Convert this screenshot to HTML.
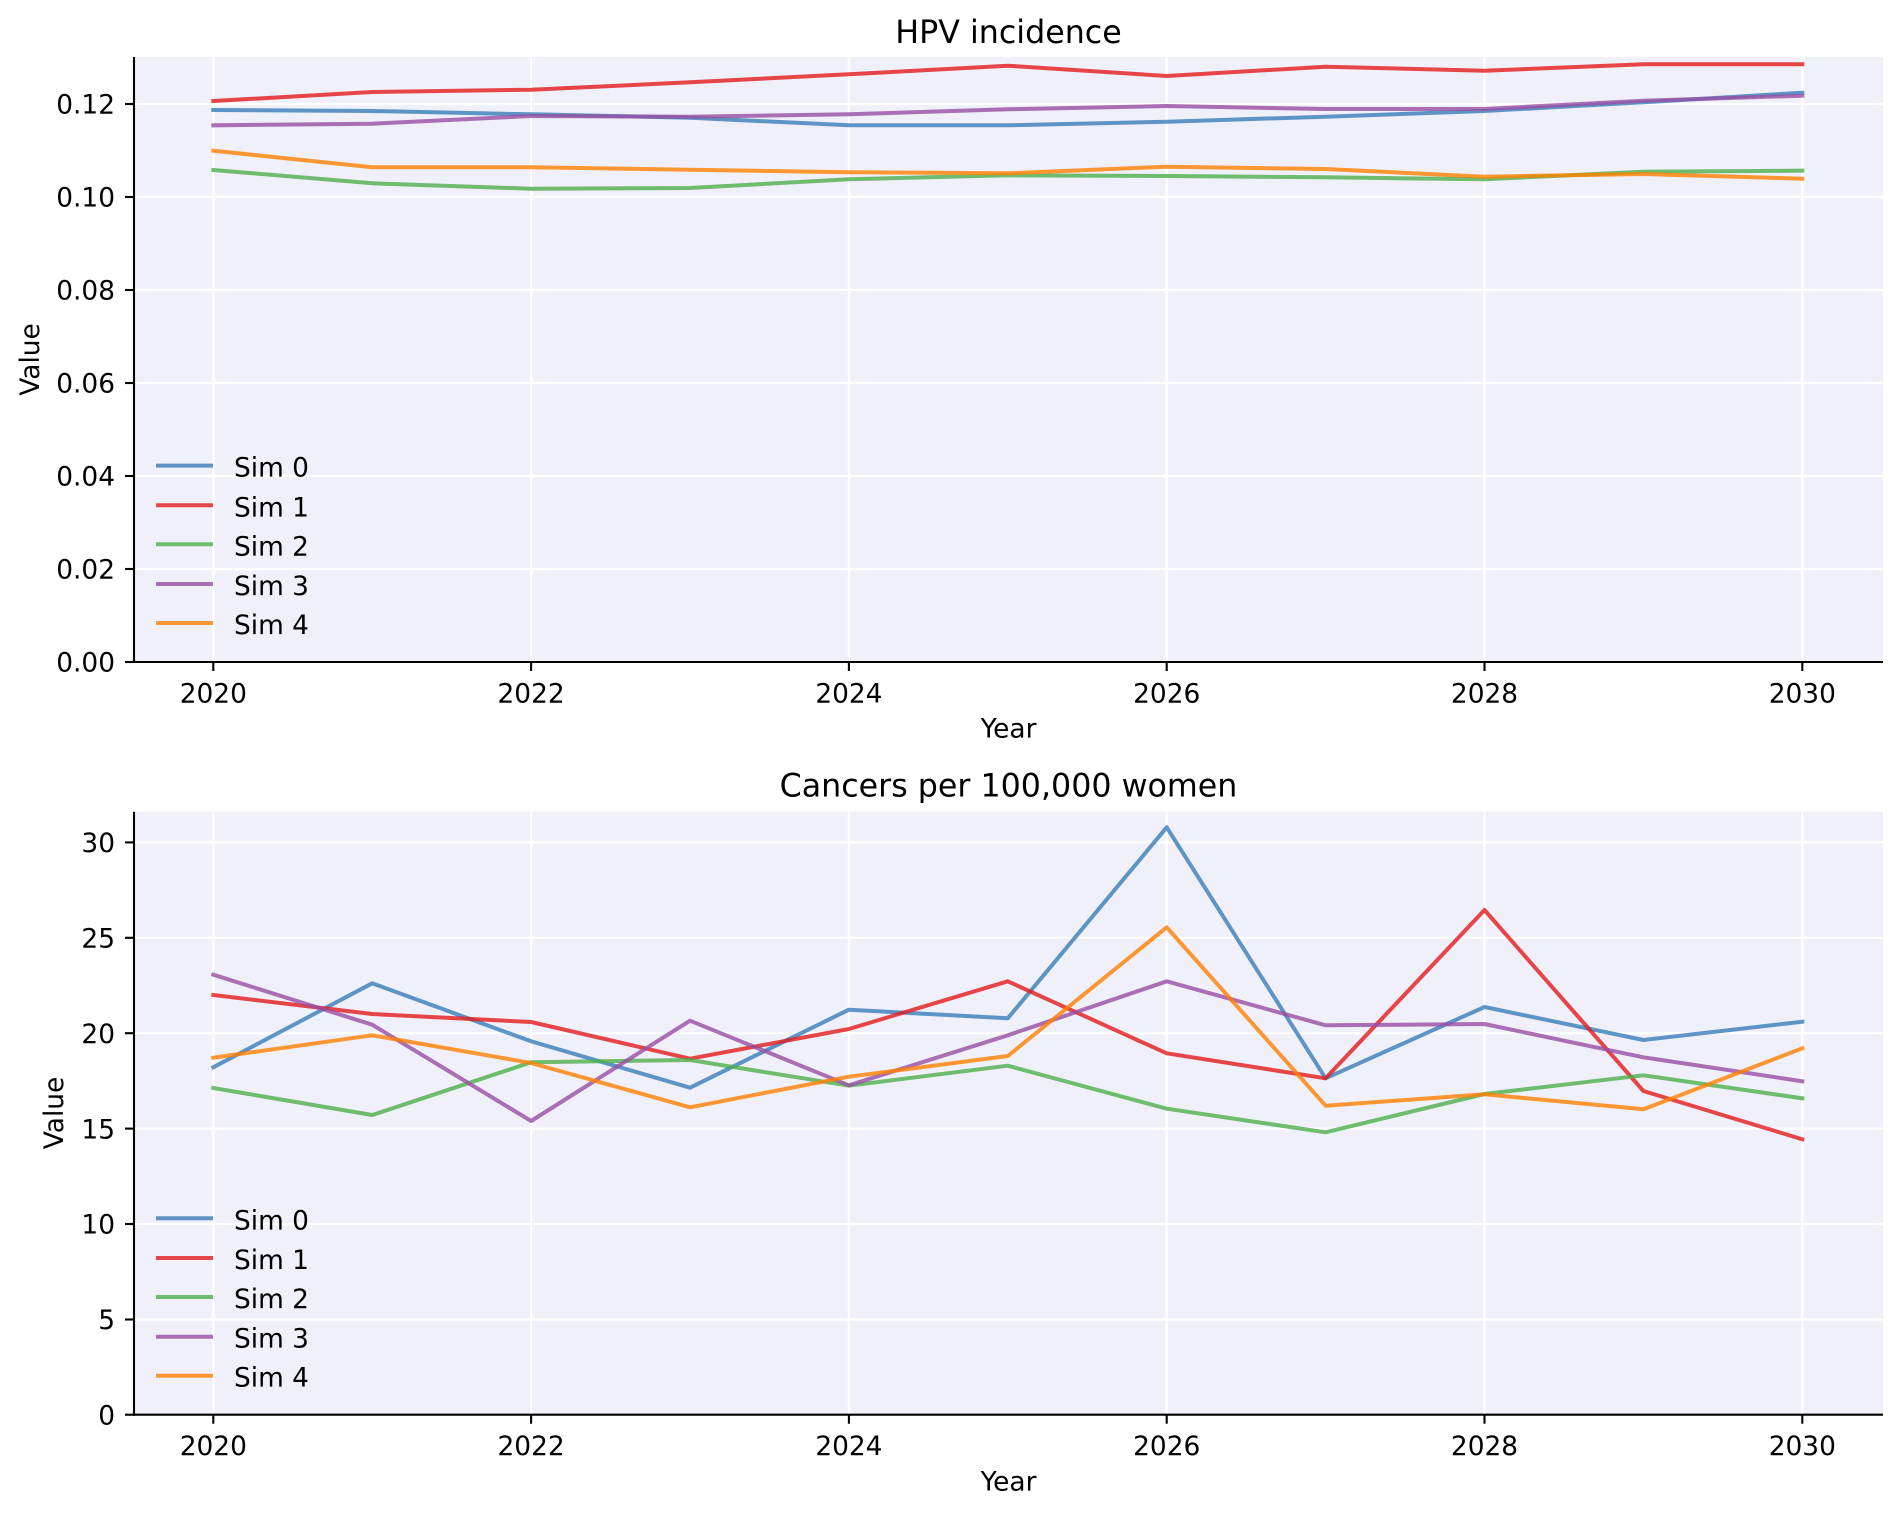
<!DOCTYPE html>
<html><head><meta charset="utf-8"><style>
html,body{margin:0;padding:0;background:#fff;}
svg{display:block;}
text{font-family:"DejaVu Sans","Liberation Sans",sans-serif;fill:#000;}
</style></head><body>
<svg width="1900" height="1516" viewBox="0 0 1900 1516" xmlns="http://www.w3.org/2000/svg">
<rect width="1900" height="1516" fill="#fff"/>

<!-- ============ TOP AXES ============ -->
<rect x="134" y="57" width="1749" height="605" fill="#f0f0fa"/>
<g stroke="#fff" stroke-width="2.2">
  <line x1="134" x2="1883" y1="569" y2="569"/>
  <line x1="134" x2="1883" y1="476" y2="476"/>
  <line x1="134" x2="1883" y1="383" y2="383"/>
  <line x1="134" x2="1883" y1="290" y2="290"/>
  <line x1="134" x2="1883" y1="197" y2="197"/>
  <line x1="134" x2="1883" y1="104" y2="104"/>
  <line y1="57" y2="662" x1="213.3" x2="213.3"/>
  <line y1="57" y2="662" x1="531.1" x2="531.1"/>
  <line y1="57" y2="662" x1="848.9" x2="848.9"/>
  <line y1="57" y2="662" x1="1166.7" x2="1166.7"/>
  <line y1="57" y2="662" x1="1484.5" x2="1484.5"/>
  <line y1="57" y2="662" x1="1802.3" x2="1802.3"/>
</g>
<g fill="none" stroke-width="4" stroke-linejoin="round" stroke-linecap="square" stroke-opacity="0.8">
  <polyline stroke="#377eb8" points="213.3,110 372.2,111 531.1,114.3 690,117.7 848.9,125.3 1007.8,125.3 1166.7,121.7 1325.6,116.7 1484.5,111 1643.4,102.3 1802.3,92.7"/>
  <polyline stroke="#e41a1c" points="213.3,101 372.2,92 531.1,89.7 690,82.3 848.9,74.3 1007.8,65.7 1166.7,76 1325.6,66.7 1484.5,70.7 1643.4,64.3 1802.3,64.3"/>
  <polyline stroke="#4daf4a" points="213.3,170 372.2,183.3 531.1,188.7 690,188 848.9,179.3 1007.8,175.3 1166.7,176 1325.6,177.3 1484.5,179.3 1643.4,171.7 1802.3,170.7"/>
  <polyline stroke="#984ea3" points="213.3,125.3 372.2,123.7 531.1,116 690,116.7 848.9,114.3 1007.8,109.3 1166.7,106 1325.6,109 1484.5,109 1643.4,100.7 1802.3,95.7"/>
  <polyline stroke="#ff7f00" points="213.3,150.7 372.2,167.3 531.1,167.3 690,169.7 848.9,172.3 1007.8,173.3 1166.7,166.7 1325.6,169 1484.5,176.7 1643.4,174 1802.3,178.7"/>
</g>
<!-- legend top -->
<g stroke-width="4" stroke-linecap="square" stroke-opacity="0.8">
  <line x1="158" x2="211" y1="465.6" y2="465.6" stroke="#377eb8"/>
  <line x1="158" x2="211" y1="505.3" y2="505.3" stroke="#e41a1c"/>
  <line x1="158" x2="211" y1="544.3" y2="544.3" stroke="#4daf4a"/>
  <line x1="158" x2="211" y1="584" y2="584" stroke="#984ea3"/>
  <line x1="158" x2="211" y1="623" y2="623" stroke="#ff7f00"/>
</g>
<g font-size="26.4">
  <text x="234" y="476.6">Sim 0</text>
  <text x="234" y="516.3">Sim 1</text>
  <text x="234" y="555.3">Sim 2</text>
  <text x="234" y="595">Sim 3</text>
  <text x="234" y="634">Sim 4</text>
</g>
<!-- spines & ticks -->
<g stroke="#000" stroke-width="2.1">
  <line x1="134" x2="134" y1="57" y2="663"/>
  <line x1="133" x2="1883" y1="662" y2="662"/>
  <line x1="125" x2="134" y1="662" y2="662"/>
  <line x1="125" x2="134" y1="569" y2="569"/>
  <line x1="125" x2="134" y1="476" y2="476"/>
  <line x1="125" x2="134" y1="383" y2="383"/>
  <line x1="125" x2="134" y1="290" y2="290"/>
  <line x1="125" x2="134" y1="197" y2="197"/>
  <line x1="125" x2="134" y1="104" y2="104"/>
  <line x1="213.3" x2="213.3" y1="662" y2="671"/>
  <line x1="531.1" x2="531.1" y1="662" y2="671"/>
  <line x1="848.9" x2="848.9" y1="662" y2="671"/>
  <line x1="1166.7" x2="1166.7" y1="662" y2="671"/>
  <line x1="1484.5" x2="1484.5" y1="662" y2="671"/>
  <line x1="1802.3" x2="1802.3" y1="662" y2="671"/>
</g>
<g font-size="26.4" text-anchor="end">
  <text x="115" y="671.7">0.00</text>
  <text x="115" y="578.7">0.02</text>
  <text x="115" y="485.7">0.04</text>
  <text x="115" y="392.7">0.06</text>
  <text x="115" y="299.7">0.08</text>
  <text x="115" y="206.7">0.10</text>
  <text x="115" y="113.7">0.12</text>
</g>
<g font-size="26.4" text-anchor="middle">
  <text x="213.3" y="702.3">2020</text>
  <text x="531.1" y="702.3">2022</text>
  <text x="848.9" y="702.3">2024</text>
  <text x="1166.7" y="702.3">2026</text>
  <text x="1484.5" y="702.3">2028</text>
  <text x="1802.3" y="702.3">2030</text>
  <text x="1008.5" y="737.7">Year</text>
  <text x="1008.5" y="43" font-size="31.7">HPV incidence</text>
  <text transform="translate(39,359.5) rotate(-90)">Value</text>
</g>

<!-- ============ BOTTOM AXES ============ -->
<rect x="134" y="811.7" width="1749" height="603" fill="#f0f0fa"/>
<g stroke="#fff" stroke-width="2.2">
  <line x1="134" x2="1883" y1="1319.5" y2="1319.5"/>
  <line x1="134" x2="1883" y1="1224" y2="1224"/>
  <line x1="134" x2="1883" y1="1128.6" y2="1128.6"/>
  <line x1="134" x2="1883" y1="1033.2" y2="1033.2"/>
  <line x1="134" x2="1883" y1="937.8" y2="937.8"/>
  <line x1="134" x2="1883" y1="842.4" y2="842.4"/>
  <line y1="811.7" y2="1414.7" x1="213.3" x2="213.3"/>
  <line y1="811.7" y2="1414.7" x1="531.1" x2="531.1"/>
  <line y1="811.7" y2="1414.7" x1="848.9" x2="848.9"/>
  <line y1="811.7" y2="1414.7" x1="1166.7" x2="1166.7"/>
  <line y1="811.7" y2="1414.7" x1="1484.5" x2="1484.5"/>
  <line y1="811.7" y2="1414.7" x1="1802.3" x2="1802.3"/>
</g>
<g fill="none" stroke-width="4" stroke-linejoin="round" stroke-linecap="square" stroke-opacity="0.8">
  <polyline stroke="#377eb8" points="213.3,1067.3 372.2,983.3 531.1,1041.3 690,1087.7 848.9,1009.7 1007.8,1018.3 1166.7,827.3 1325.6,1078.3 1484.5,1007 1643.4,1040 1802.3,1021.7"/>
  <polyline stroke="#e41a1c" points="213.3,995 372.2,1014 531.1,1022 690,1058.7 848.9,1029 1007.8,981.3 1166.7,1053.3 1325.6,1078.3 1484.5,910 1643.4,1091 1802.3,1139.3"/>
  <polyline stroke="#4daf4a" points="213.3,1088 372.2,1115 531.1,1062.3 690,1060 848.9,1085.7 1007.8,1065.7 1166.7,1108.7 1325.6,1132.3 1484.5,1094 1643.4,1075.3 1802.3,1098.3"/>
  <polyline stroke="#984ea3" points="213.3,974.7 372.2,1024.7 531.1,1121 690,1020.7 848.9,1085.3 1007.8,1035.3 1166.7,981.3 1325.6,1025.3 1484.5,1024 1643.4,1057.3 1802.3,1081.3"/>
  <polyline stroke="#ff7f00" points="213.3,1057.7 372.2,1035.3 531.1,1063 690,1107.3 848.9,1076.7 1007.8,1056 1166.7,927.3 1325.6,1105.7 1484.5,1094.3 1643.4,1109.3 1802.3,1048.3"/>
</g>
<!-- legend bottom -->
<g stroke-width="4" stroke-linecap="square" stroke-opacity="0.8">
  <line x1="158" x2="211" y1="1218.3" y2="1218.3" stroke="#377eb8"/>
  <line x1="158" x2="211" y1="1258" y2="1258" stroke="#e41a1c"/>
  <line x1="158" x2="211" y1="1297" y2="1297" stroke="#4daf4a"/>
  <line x1="158" x2="211" y1="1336.7" y2="1336.7" stroke="#984ea3"/>
  <line x1="158" x2="211" y1="1375.7" y2="1375.7" stroke="#ff7f00"/>
</g>
<g font-size="26.4">
  <text x="234" y="1229.3">Sim 0</text>
  <text x="234" y="1269">Sim 1</text>
  <text x="234" y="1308">Sim 2</text>
  <text x="234" y="1347.7">Sim 3</text>
  <text x="234" y="1386.7">Sim 4</text>
</g>
<g stroke="#000" stroke-width="2.1">
  <line x1="134" x2="134" y1="811.7" y2="1415.7"/>
  <line x1="133" x2="1883" y1="1414.7" y2="1414.7"/>
  <line x1="125" x2="134" y1="1414.7" y2="1414.7"/>
  <line x1="125" x2="134" y1="1319.5" y2="1319.5"/>
  <line x1="125" x2="134" y1="1224" y2="1224"/>
  <line x1="125" x2="134" y1="1128.6" y2="1128.6"/>
  <line x1="125" x2="134" y1="1033.2" y2="1033.2"/>
  <line x1="125" x2="134" y1="937.8" y2="937.8"/>
  <line x1="125" x2="134" y1="842.4" y2="842.4"/>
  <line x1="213.3" x2="213.3" y1="1414.7" y2="1423.7"/>
  <line x1="531.1" x2="531.1" y1="1414.7" y2="1423.7"/>
  <line x1="848.9" x2="848.9" y1="1414.7" y2="1423.7"/>
  <line x1="1166.7" x2="1166.7" y1="1414.7" y2="1423.7"/>
  <line x1="1484.5" x2="1484.5" y1="1414.7" y2="1423.7"/>
  <line x1="1802.3" x2="1802.3" y1="1414.7" y2="1423.7"/>
</g>
<g font-size="26.4" text-anchor="end">
  <text x="115" y="1424.4">0</text>
  <text x="115" y="1329.2">5</text>
  <text x="115" y="1233.7">10</text>
  <text x="115" y="1138.3">15</text>
  <text x="115" y="1042.9">20</text>
  <text x="115" y="947.5">25</text>
  <text x="115" y="852.1">30</text>
</g>
<g font-size="26.4" text-anchor="middle">
  <text x="213.3" y="1455">2020</text>
  <text x="531.1" y="1455">2022</text>
  <text x="848.9" y="1455">2024</text>
  <text x="1166.7" y="1455">2026</text>
  <text x="1484.5" y="1455">2028</text>
  <text x="1802.3" y="1455">2030</text>
  <text x="1008.5" y="1490.4">Year</text>
  <text x="1008.5" y="796.7" font-size="31.7">Cancers per 100,000 women</text>
  <text transform="translate(63,1113) rotate(-90)">Value</text>
</g>
</svg>
</body></html>
